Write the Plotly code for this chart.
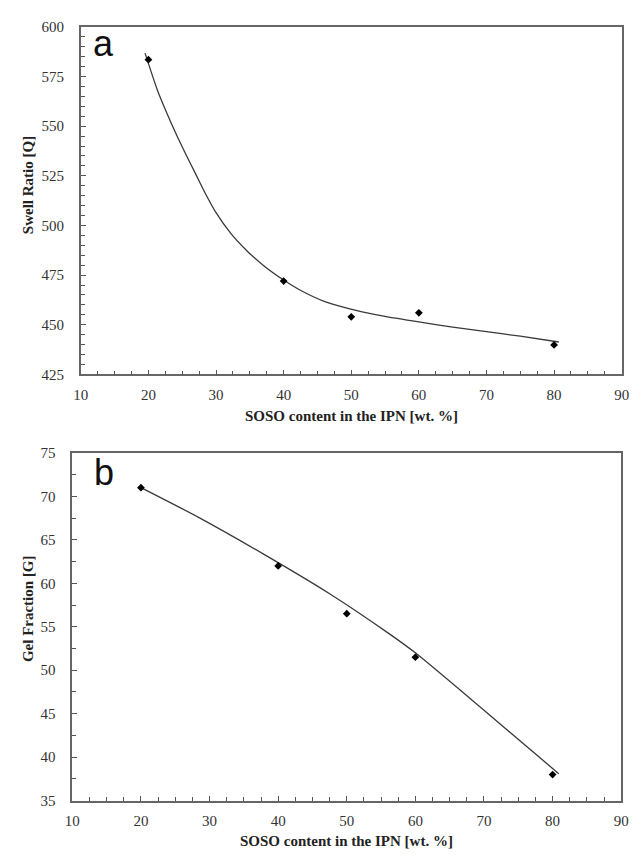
import plotly.graph_objects as go

# ---- data ----
soso = [20, 40, 50, 60, 80]
swell_ratio = [583.5, 472, 454, 456, 439.8]
gel_fraction = [71.0, 62.0, 56.5, 51.5, 38.0]

# trend curves
trend_a_x = [19.5, 21.3, 22.7, 24.2, 25.6, 27.05, 28.5, 29.9, 32.3, 34.7, 37.1, 40.0, 42.4, 46.0, 51.0, 55.0, 60.0, 65.0, 70.0, 75.0, 80.7]
trend_a_y = [586.8, 568.4, 556.8, 545.3, 535.4, 525.5, 515.6, 507.0, 495.5, 486.8, 479.6, 472.5, 467.5, 461.8, 457.0, 454.2, 451.4, 448.8, 446.5, 444.2, 441.3]
trend_b_x = [20.0, 28.6, 38.0, 47.5, 56.0, 60.0, 70.0, 80.9]
trend_b_y = [71.0, 67.5, 63.3, 58.8, 54.3, 52.0, 45.4, 38.1]

x_title = "SOSO content in the IPN [wt. %]"
ya_title = "Swell Ratio [Q]"
yb_title = "Gel Fraction [G]"

W, H = 637, 859
# plot-area pixel boxes
A = dict(l=74.7, r=629.5, t=19.3, b=373.3)
B = dict(l=66.0, r=629.0, t=453.3, b=807.7)

def dom_x(box):
    return [box["l"] / W, box["r"] / W]

def dom_y(box):
    return [1 - box["b"] / H, 1 - box["t"] / H]

SERIF = "Liberation Serif"

fig = go.Figure()
marker = dict(symbol="diamond", size=6, color="black")
line = dict(color="#3a3a3a", width=1.3, shape="spline", smoothing=0.6)

fig.add_trace(go.Scatter(x=trend_a_x, y=trend_a_y, mode="lines", line=line, xaxis="x", yaxis="y", hoverinfo="skip"))
fig.add_trace(go.Scatter(x=soso, y=swell_ratio, mode="markers", marker=marker, xaxis="x", yaxis="y"))
fig.add_trace(go.Scatter(x=trend_b_x, y=trend_b_y, mode="lines", line=line, xaxis="x2", yaxis="y2", hoverinfo="skip"))
fig.add_trace(go.Scatter(x=soso, y=gel_fraction, mode="markers", marker=marker, xaxis="x2", yaxis="y2"))

tickfont = dict(family=SERIF, size=15, color="#333333")
axcommon = dict(showline=True, linecolor="#666666", linewidth=1.5, mirror=True,
                ticks="inside", ticklen=5, tickwidth=1, tickcolor="#555555",
                showgrid=False, zeroline=False, tickfont=tickfont)

fig.update_layout(
    width=W, height=H, margin=dict(l=0, r=0, t=0, b=0),
    font=dict(family=SERIF),
    paper_bgcolor="white", plot_bgcolor="white", showlegend=False,
    xaxis=dict(domain=dom_x(A), anchor="y", range=[10, 90], dtick=10, tick0=10,
               minor=dict(ticks="inside", dtick=2.5, ticklen=4, tickcolor="#555555"),
               ticklabelstandoff=6, **axcommon),
    yaxis=dict(domain=dom_y(A), anchor="x", range=[425, 600], dtick=25, tick0=425,
               minor=dict(ticks="inside", dtick=5, ticklen=4, tickcolor="#555555"),
               ticklabelstandoff=12, **axcommon),
    xaxis2=dict(domain=dom_x(B), anchor="y2", range=[10, 90], dtick=10, tick0=10,
                minor=dict(ticks="inside", dtick=2.5, ticklen=4, tickcolor="#555555"),
                ticklabelstandoff=6, **axcommon),
    yaxis2=dict(domain=dom_y(B), anchor="x2", range=[35, 75], dtick=5, tick0=35,
                minor=dict(ticks="inside", dtick=2.5, ticklen=4, tickcolor="#555555"),
                ticklabelstandoff=12, **axcommon),
)

titlefont = dict(family=SERIF, size=15, color="#222222")
letterfont = dict(family="Liberation Sans", size=36, color="#111111")
ann = [
    dict(text="<b>" + x_title + "</b>", x=(A["l"] + A["r"]) / 2 / W, y=1 - 416 / H),
    dict(text="<b>" + x_title + "</b>", x=(B["l"] + B["r"]) / 2 / W, y=1 - 849 / H),
    dict(text="<b>" + ya_title + "</b>", x=20 / W, y=1 - 180 / H, textangle=-90),
    dict(text="<b>" + yb_title + "</b>", x=20 / W, y=1 - 612 / H, textangle=-90),
]
for a in ann:
    fig.add_annotation(xref="paper", yref="paper", showarrow=False, font=titlefont,
                       xanchor="center", yanchor="middle", **a)
fig.add_annotation(text="a", xref="paper", yref="paper", x=98 / W, y=1 - 36 / H,
                   showarrow=False, font=letterfont, xanchor="center", yanchor="middle")
fig.add_annotation(text="b", xref="paper", yref="paper", x=98 / W, y=1 - 473 / H,
                   showarrow=False, font=letterfont, xanchor="center", yanchor="middle")

fig.write_html("out.html")
